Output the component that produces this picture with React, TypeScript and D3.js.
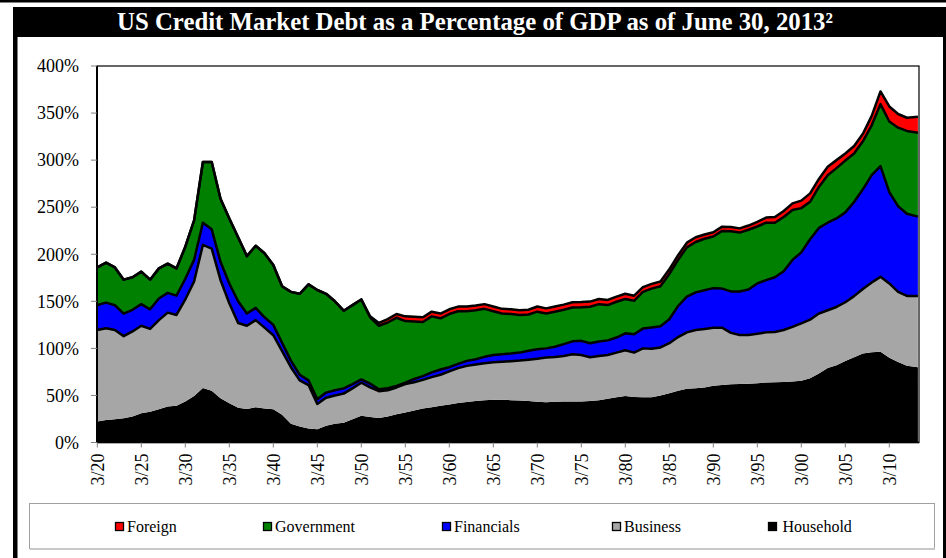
import React from "react";
import * as d3 from "d3";

// ---------- data (percent of GDP) ----------
const years: number[] = [
  1920, 1921, 1922, 1923, 1924, 1925, 1926, 1927, 1928, 1929,
  1930, 1931, 1932, 1933, 1934, 1935, 1936, 1937, 1938, 1939,
  1940, 1941, 1942, 1943, 1944, 1945, 1946, 1947, 1948, 1949,
  1950, 1951, 1952, 1953, 1954, 1955, 1956, 1957, 1958, 1959,
  1960, 1961, 1962, 1963, 1964, 1965, 1966, 1967, 1968, 1969,
  1970, 1971, 1972, 1973, 1974, 1975, 1976, 1977, 1978, 1979,
  1980, 1981, 1982, 1983, 1984, 1985, 1986, 1987, 1988, 1989,
  1990, 1991, 1992, 1993, 1994, 1995, 1996, 1997, 1998, 1999,
  2000, 2001, 2002, 2003, 2004, 2005, 2006, 2007, 2008, 2009,
  2010, 2011, 2012, 2013.25,
];

const household: number[] = [
  22.3, 24, 24.8, 25.8, 27.6, 31, 32.6, 35.4, 38.2, 39,
  43.5, 49.5, 58, 55, 47, 41.8, 37, 35.7, 37.5, 36,
  35.4, 29.4, 20, 17, 15, 14, 17.7, 20, 21, 24.8,
  28.3, 27, 26, 27.6, 30, 32, 34, 36, 37.5, 39,
  40.5, 42, 43, 44, 45, 45.3, 45.3, 45, 44.7, 44,
  43.3, 42.8, 43.3, 43.5, 43.5, 43.5, 44.2, 45, 46.5, 48,
  49.5, 48.3, 48, 48, 50, 52.4, 55, 57, 57.7, 58.5,
  60.2, 61, 61.9, 62.1, 62.3, 63, 63.7, 64, 64.4, 64.7,
  65.5, 68.3, 73.3, 79.2, 82, 86.5, 90.5, 94.5, 96, 96.3,
  90, 85.5, 81.5, 80,
];

const business: number[] = [
  97.3, 97.4, 94.8, 87.2, 90.4, 93, 88.1, 94.6, 99.8, 96.5,
  108.5, 121.5, 152, 151, 125.7, 106.2, 90, 88.3, 92.5, 86,
  78.6, 67.6, 60, 49, 46, 27, 29.8, 30, 31, 32.7,
  35.2, 31.5, 28.5, 27.9, 28.5, 30, 30, 30.5, 32, 33,
  35, 37, 38.4, 38.8, 39.3, 40, 40.5, 41.3, 42.3, 44,
  45.7, 47.4, 47.5, 48.5, 50.3, 49.5, 46.4, 47, 46.5, 47.5,
  48.5, 47.2, 52, 51.5, 51, 53.1, 57, 60, 61.8, 62,
  61.6, 61, 54.6, 52.2, 52, 52.5, 53.3, 53.5, 55.1, 58.1,
  61, 62.2, 63.7, 61.3, 62, 62.5, 65, 68.5, 74, 79.7,
  79, 74.5, 74.2, 75.7,
];

const financials: number[] = [
  26.4, 27.2, 26.2, 24, 23, 23, 20.8, 23, 21, 20.5,
  22, 23, 23.5, 20.5, 19.3, 21, 23, 13, 13, 11,
  11, 9, 7, 6, 5, 5, 5.5, 5.5, 5.5, 4.5,
  3.5, 4, 2, 2.1, 1.5, 1.5, 3.5, 4, 5, 5.5,
  4.5, 4.5, 5.3, 5.7, 6.7, 7.7, 8, 8.2, 8.5, 9.5,
  10, 9.8, 11, 12.5, 13.7, 15, 14.8, 15.2, 15.5, 16,
  18, 19.5, 21, 22.7, 22.5, 25.5, 33, 38, 40, 41.3,
  42.2, 41.5, 44, 46.2, 48.2, 53.5, 55.5, 58, 62.5, 71.2,
  75.5, 85.5, 91, 93, 94, 95.5, 100, 106, 114, 117.7,
  97, 91, 87.3, 84.3,
];

const government: number[] = [
  40, 42.4, 40.2, 36, 34.5, 34.5, 31.5, 32, 31, 29,
  34, 42, 64.5, 71.5, 67, 69, 68, 61, 66, 68,
  63.6, 60, 73, 86, 102, 116, 105, 94.5, 82.5, 84,
  85, 70.5, 67.5, 69.9, 72.5, 65.5, 61, 57.5, 59.5, 54.5,
  56.5, 55.9, 52.7, 52, 51, 46.5, 43.2, 42, 40, 38.5,
  40, 37, 37.1, 36.5, 36, 35.7, 38.8, 39.8, 37.5, 38,
  36.5, 35.5, 39, 41.3, 42.5, 48, 49, 52.3, 53.5, 54.7,
  54.8, 61.3, 64, 62.5, 63.5, 60.5, 61, 58, 57.5, 53,
  47, 39.7, 43.5, 50.5, 53.5, 55, 51.5, 51, 53, 65.8,
  75, 83.5, 88, 89,
];

const foreign: number[] = [
  0, 0, 0, 0, 0, 0, 0, 0, 0, 0,
  0, 0, 0, 0, 0, 0, 0, 0, 0, 0,
  0, 0, 0, 0, 0, 0, 0, 0, 0, 0,
  0, 1, 3, 3.5, 4, 5, 5, 5, 5, 5,
  5, 5, 5, 5, 5, 5, 5, 5, 5, 5,
  5.5, 5.5, 5.5, 5.5, 5.5, 5.5, 5.5, 5.5, 5.5, 5.5,
  5.5, 5.5, 5, 5, 5, 5, 5, 5, 5, 4.5,
  4.5, 4.5, 4.5, 4.5, 4.5, 5, 5.5, 6, 6.5, 7,
  8, 9, 8.5, 9, 8.5, 7.5, 8, 8, 10, 13.5,
  16, 14.5, 14, 17,
];

const seriesNames: string[] = ["Household", "Business", "Financials", "Government", "Foreign"];
const seriesColors: string[] = ["#000000", "#A6A6A6", "#0000FF", "#008000", "#FF0000"];
const legendOrder: string[] = ["Foreign", "Government", "Financials", "Business", "Household"];

const xTickYears: number[] = [1920, 1925, 1930, 1935, 1940, 1945, 1950, 1955, 1960, 1965, 1970, 1975, 1980, 1985, 1990, 1995, 2000, 2005, 2010];
const xTickLabels: string[] = ["3/20", "3/25", "3/30", "3/35", "3/40", "3/45", "3/50", "3/55", "3/60", "3/65", "3/70", "3/75", "3/80", "3/85", "3/90", "3/95", "3/00", "3/05", "3/10"];
const yTicks: number[] = [0, 50, 100, 150, 200, 250, 300, 350, 400];

const titleText = "US Credit Market Debt as a Percentage of GDP as of June 30, 2013²";

// ---------- layout ----------
const W = 946;
const H = 558;
const FONT = "'Liberation Serif', 'Times New Roman', Times, serif";
const PL = 97;
const PR = 919;
const PT = 66;
const PB = 442.5;

export default function App() {
  const seriesArrays = [household, business, financials, government, foreign];
  const rows = years.map((yr, i) => {
    const r: any = { year: yr };
    seriesNames.forEach((n, k) => (r[n] = seriesArrays[k][i]));
    return r;
  });
  const stacked = d3.stack<any>().keys(seriesNames)(rows);

  const x = d3.scaleLinear().domain([1920, 2013.25]).range([97.3, 917.9]);
  const y = d3.scaleLinear().domain([0, 400]).range([PB, PT]);

  const area = d3
    .area<any>()
    .x((d) => x(d.data.year))
    .y0((d) => y(d[0]))
    .y1((d) => y(d[1]))
    .curve(d3.curveLinear);
  const topLine = d3
    .line<any>()
    .x((d) => x(d.data.year))
    .y((d) => y(d[1]))
    .curve(d3.curveLinear);

  const legendX: Record<string, number> = {
    Foreign: 115,
    Government: 263,
    Financials: 442,
    Business: 612,
    Household: 768,
  };

  return (
    <svg
      width={W}
      height={H}
      viewBox={`0 0 ${W} ${H}`}
      style={{ position: "absolute", left: 0, top: 0, background: "#fff" }}
      fontFamily={FONT}
    >
      <rect x={0} y={0} width={W} height={H} fill="#fff" />
      {/* frame */}
      <rect x={0} y={0} width={W} height={2.5} fill="#000" />
      <rect x={13} y={7} width={W - 13} height={30} fill="#000" />
      <rect x={13} y={7} width={4.5} height={H - 7} fill="#000" />
      <rect x={943} y={7} width={3} height={H - 7} fill="#000" />
      <text
        x={475}
        y={30}
        textAnchor="middle"
        fill="#fff"
        fontWeight="bold"
        fontSize={24.8}
      >
        {titleText}
      </text>

      {/* areas */}
      {stacked.map((s, i) => (
        <path key={s.key} d={area(s) || ""} fill={seriesColors[i]} stroke="none" />
      ))}
      {stacked.map((s, i) =>
        i === 0 ? null : (
          <path
            key={"l" + s.key}
            d={topLine(s) || ""}
            fill="none"
            stroke="#000"
            strokeWidth={2.5}
            strokeLinejoin="round"
          />
        )
      )}

      {/* plot border */}
      <rect x={PL} y={PT} width={PR - PL} height={PB - PT} fill="none" stroke="#000" strokeWidth={1.2} />
      <line x1={PL} x2={PL} y1={PT} y2={PB} stroke="#000" strokeWidth={2} />
      <line x1={PL} x2={PR} y1={PB} y2={PB} stroke="#000" strokeWidth={1.5} />

      {/* y axis */}
      {yTicks.map((t) => (
        <g key={"y" + t}>
          <line x1={PL - 6} x2={PL} y1={y(t)} y2={y(t)} stroke="#808080" strokeWidth={1} />
          <text x={79} y={y(t)} dy="0.35em" textAnchor="end" fontSize={18} fill="#000">
            {t}%
          </text>
        </g>
      ))}

      {/* x axis */}
      {xTickYears.map((yr, i) => (
        <g key={"x" + yr}>
          <line x1={x(yr)} x2={x(yr)} y1={PB} y2={PB + 5} stroke="#808080" strokeWidth={1} />
          <text
            transform={`translate(${x(yr)},${PB + 11}) rotate(-90)`}
            dy="0.35em"
            textAnchor="end"
            fontSize={18}
            fill="#000"
          >
            {xTickLabels[i]}
          </text>
        </g>
      ))}

      {/* legend */}
      <rect x={29.5} y={503.5} width={905} height={45} fill="#fff" stroke="#A0A0A0" strokeWidth={1} />
      <line x1={30} x2={935} y1={549} y2={549} stroke="#C8C8C8" strokeWidth={2} />
      {legendOrder.map((n) => {
        const k = seriesNames.indexOf(n);
        const lx = legendX[n];
        return (
          <g key={"lg" + n}>
            <rect x={lx + 0.5} y={522.5} width={8} height={8} fill={seriesColors[k]} stroke="#000" strokeWidth={1.3} />
            <text x={lx + (n === "Household" ? 14.5 : 12)} y={532} fontSize={16} fill="#000">
              {n}
            </text>
          </g>
        );
      })}
    </svg>
  );
}
